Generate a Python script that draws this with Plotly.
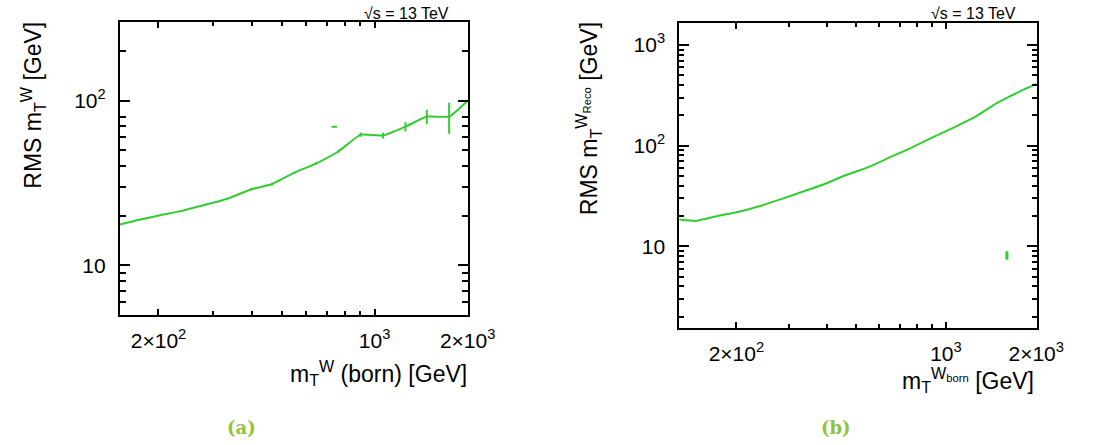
import numpy as np
import plotly.graph_objects as go

W, H = 1103, 445
GREEN = "#33cc33"
CAP = "#8cc43c"
FONT = "Liberation Sans, Arial, sans-serif"

# ---- data (a) ----
xa = [150, 173, 204, 240, 285, 332, 398, 467, 551, 646, 763, 902, 1065, 1259, 1476, 1743, 2000]
ya = [17.7, 18.9, 20.2, 21.5, 23.4, 25.3, 28.9, 31.2, 36.6, 41.5, 49.1, 62.2, 61.4, 69.5, 80, 80, 100]
ea = [0, 0.2, 0.2, 0.2, 0.3, 0.3, 0.4, 0.5, 0.6, 0.7, 0.9, 1.8, 2.5, 4.5, 8, 17, 0]
xa_iso = [741]
ya_iso = [69.5]

# ---- data (b) ----
xb = [129, 147, 173, 204, 240, 285, 332, 398, 467, 551, 646, 763, 902, 1065, 1259, 1476, 1743, 2000]
yb = [18.5, 17.9, 20.0, 22.1, 25.2, 29.8, 34.8, 42.1, 51.4, 61.2, 75.9, 94.6, 121, 152, 195, 264, 340, 411]
xb_iso = [1597]
yb_iso = [8.1]

# tick labels
xa_tickvals = [200, 1000, 2000]
xa_ticktext = ["2×10<sup>2</sup>", "10<sup>3</sup>", "2×10<sup>3</sup>"]
ya_tickvals = [10, 100]
ya_ticktext = ["10", "10<sup>2</sup>"]
yb_tickvals = [10, 100, 1000]
yb_ticktext = ["10", "10<sup>2</sup>", "10<sup>3</sup>"]

x_minor = [300, 400, 500, 600, 700, 800, 900]
ya_minor = [6, 7, 8, 9, 20, 30, 40, 50, 60, 70, 80, 200]
yb_minor = [m * d for d in (1, 10, 100) for m in range(2, 10)]


def px(x):
    return x / W


def py(y):
    return 1 - y / H


fig = go.Figure()

fig.add_trace(go.Scatter(x=xa, y=ya, mode="lines", line=dict(color=GREEN, width=2, shape="spline", smoothing=0.4),
                         error_y=dict(type="data", array=ea, width=0, thickness=2, color=GREEN),
                         xaxis="x", yaxis="y", showlegend=False))
fig.add_trace(go.Scatter(x=xa_iso, y=ya_iso, mode="markers",
                         marker=dict(symbol="line-ew", size=4, line=dict(color=GREEN, width=2)),
                         xaxis="x", yaxis="y", showlegend=False))
fig.add_trace(go.Scatter(x=xb, y=yb, mode="lines", line=dict(color=GREEN, width=2, shape="spline", smoothing=0.4),
                         xaxis="x2", yaxis="y2", showlegend=False))
fig.add_trace(go.Scatter(x=xb_iso, y=yb_iso, mode="markers",
                         marker=dict(symbol="line-ns", size=6, line=dict(color=GREEN, width=3)),
                         xaxis="x2", yaxis="y2", showlegend=False))

common = dict(type="log", showgrid=False, zeroline=False, showline=True, linecolor="black", linewidth=2,
              mirror="ticks", ticks="inside", tickcolor="black", tickwidth=2,
              tickfont=dict(family=FONT, size=21, color="black"))

fig.update_layout(
    width=W, height=H, autosize=False, margin=dict(l=0, r=0, t=0, b=0),
    paper_bgcolor="white", plot_bgcolor="white",
    xaxis=dict(**common, domain=[px(123), px(480)], range=[np.log10(150), np.log10(2003)], anchor="y",
               tickvals=xa_tickvals, ticktext=xa_ticktext, ticklen=6, ticklabelstandoff=6,
               minor=dict(tickvals=x_minor, ticklen=4, ticks="inside", tickcolor="black", tickwidth=1.5)),
    yaxis=dict(**common, domain=[py(315), py(22)], range=[np.log10(5), np.log10(300)], anchor="x",
               tickvals=ya_tickvals, ticktext=ya_ticktext, ticklen=10, ticklabelstandoff=8,
               minor=dict(tickvals=ya_minor, ticklen=6, ticks="inside", tickcolor="black", tickwidth=1.5)),
    xaxis2=dict(**common, domain=[px(697), px(1064)], range=[np.log10(129), np.log10(2012)], anchor="y2",
                tickvals=xa_tickvals, ticktext=xa_ticktext, ticklen=6, ticklabelstandoff=6,
                minor=dict(tickvals=x_minor, ticklen=4, ticks="inside", tickcolor="black", tickwidth=1.5)),
    yaxis2=dict(**common, domain=[py(328), py(22.5)], range=[0.189, 3.223], anchor="x2",
                tickvals=yb_tickvals, ticktext=yb_ticktext, ticklen=10, ticklabelstandoff=8,
                minor=dict(tickvals=yb_minor, ticklen=5, ticks="inside", tickcolor="black", tickwidth=1.5)),
)

ann = []
tf = dict(family=FONT, size=23, color="black")
ann.append(dict(text="RMS m<sub>T</sub><sup>W</sup> [GeV]", textangle=-90, x=px(33), y=py(20),
                xanchor="center", yanchor="top", font=tf))
ann.append(dict(text="m<sub>T</sub><sup>W</sup> (born) [GeV]", x=px(481), y=py(373),
                xanchor="right", yanchor="middle", font=tf))
ann.append(dict(text="RMS m<sub>T</sub><sup>W<sub>Reco</sub></sup> [GeV]", textangle=-90, x=px(603), y=py(20),
                xanchor="center", yanchor="top", font=tf))
ann.append(dict(text="m<sub>T</sub><sup>W<sub>born</sub></sup> [GeV]", x=px(1063), y=py(380),
                xanchor="right", yanchor="middle", font=tf))
sf = dict(family=FONT, size=16, color="black")
ann.append(dict(text="√s = 13 TeV", x=px(463), y=py(13), xanchor="right", yanchor="middle", font=sf))
ann.append(dict(text="√s = 13 TeV", x=px(1045), y=py(13), xanchor="right", yanchor="middle", font=sf))
cf = dict(family="DejaVu Serif, serif", size=18, color=CAP)
ann.append(dict(text="<b>(a)</b>", x=px(248), y=py(427), xanchor="center", yanchor="middle", font=cf))
ann.append(dict(text="<b>(b)</b>", x=px(858), y=py(427), xanchor="center", yanchor="middle", font=cf))
for a in ann:
    a.update(xref="paper", yref="paper", showarrow=False)
fig.update_layout(annotations=ann)

fig.write_html("out.html")
